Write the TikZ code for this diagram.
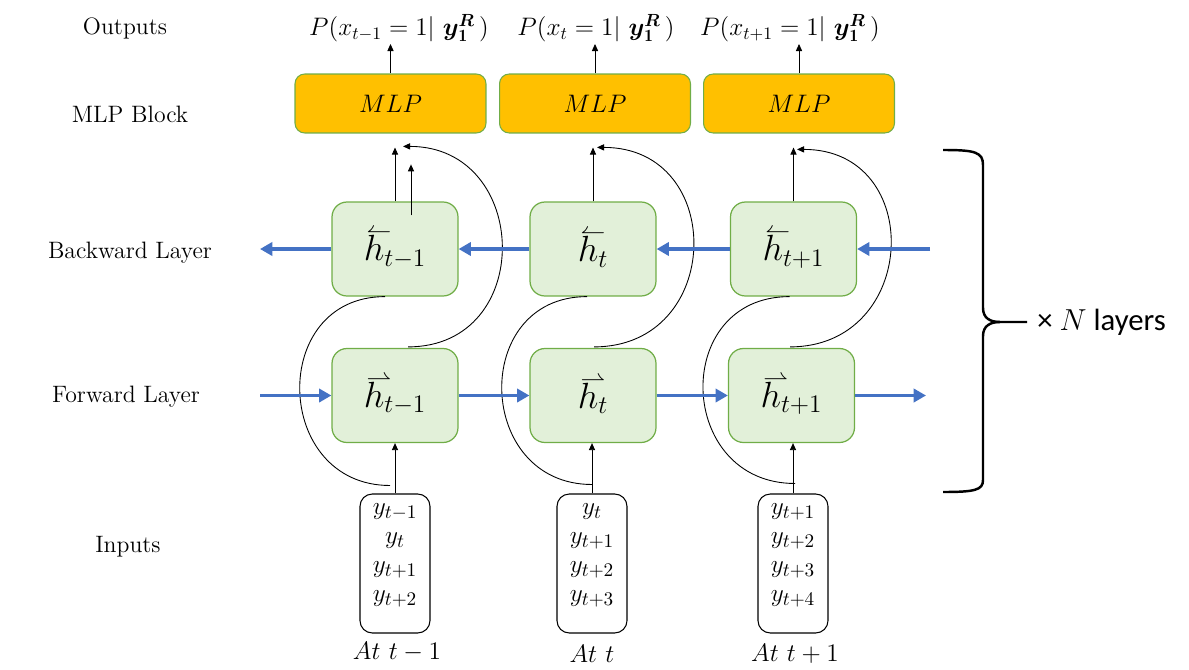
\documentclass[tikz,border=0pt]{standalone}
\usepackage{amsmath,amssymb}
\usepackage{fontspec}
\newfontfamily\labelsans{Carlito}
\usetikzlibrary{arrows.meta}

\definecolor{mlporange}{HTML}{FFC000}
\definecolor{cellgreen}{HTML}{E2F0D9}
\definecolor{boxgreen}{HTML}{70AD47}
\definecolor{flowblue}{HTML}{4472C4}

% hidden states with direction harpoons resting on the h
\newcommand{\bwh}{\rlap{\raisebox{0.63em}{\hspace{0.08em}$\scriptstyle\leftharpoonup$}}h}
\newcommand{\fwh}{\rlap{\raisebox{0.63em}{\hspace{0.08em}$\scriptstyle\rightharpoonup$}}h}

\tikzset{
  mlpbox/.style={draw=boxgreen, fill=mlporange, rounded corners=5.5pt,
    minimum width=3.82cm, minimum height=1.18cm, line width=0.6pt,
    font=\fontsize{13.5}{15}\selectfont},
  hbox/.style={draw=boxgreen, fill=cellgreen, rounded corners=8.5pt,
    minimum width=2.52cm, minimum height=1.88cm, line width=0.7pt,
    font=\fontsize{20}{22}\selectfont},
  inbox/.style={draw, rounded corners=7pt, minimum width=1.4cm,
    minimum height=2.78cm, line width=0.6pt},
  intext/.style={align=center, inner sep=0pt, font=\fontsize{15.5}{16.5}\selectfont},
  timetext/.style={font=\fontsize{14.5}{16}\selectfont},
  outtext/.style={anchor=south, inner sep=1pt, font=\fontsize{14}{16}\selectfont},
  rowlabel/.style={font=\fontsize{13.5}{15}\selectfont},
  flow/.style={draw=flowblue, line width=2.2pt, -{Triangle[length=7pt,width=7.5pt]}},
  link/.style={draw=black, line width=0.5pt, -{Triangle[length=4pt,width=3.5pt]}},
  plain/.style={draw=black, line width=0.5pt},
}

\begin{document}
\begin{tikzpicture}[x=0.02cm, y=-0.02cm]
\useasboundingbox (0,0) rectangle (1189,669);

% row labels
\node[rowlabel] (lout) at (125,28)  {Outputs};
\node[rowlabel] (lmlp) at (130,114) {MLP Block};
\node[rowlabel] (lbw)  at (130,253) {Backward Layer};
\node[rowlabel] (lfw)  at (126,397) {Forward Layer};
\node[rowlabel] (lin)  at (128,547) {Inputs};

% MLP heads
\node[mlpbox] (mlp1) at (390.5,103.5) {$MLP$};
\node[mlpbox] (mlp2) at (595,103.5)   {$MLP$};
\node[mlpbox] (mlp3) at (799,103.5)   {$MLP$};

% outputs
\node[outtext] (out1) at (399,44) {$P(x_{t-1} = 1|\ \boldsymbol{y}_{\mathbf{1}}^{\boldsymbol{R}}\,)$};
\node[outtext] (out2) at (596,44) {$P(x_{t} = 1|\ \boldsymbol{y}_{\mathbf{1}}^{\boldsymbol{R}}\,)$};
\node[outtext] (out3) at (790,44) {$P(x_{t+1} = 1|\ \boldsymbol{y}_{\mathbf{1}}^{\boldsymbol{R}}\,)$};

% backward and forward cells
\node[hbox] (bw1) at (395,249)   {$\bwh_{t-1}$};
\node[hbox] (bw2) at (593,249)   {$\bwh_{t}$};
\node[hbox] (bw3) at (793.5,249) {$\bwh_{t+1}$};
\node[hbox] (fw1) at (395,395.5)   {$\fwh_{t-1}$};
\node[hbox] (fw2) at (593,395.5)   {$\fwh_{t}$};
\node[hbox] (fw3) at (791.5,395.5) {$\fwh_{t+1}$};

% input windows
\node[inbox] (in1) at (395,563.5) {};
\node[inbox] (in2) at (592,563.5) {};
\node[inbox] (in3) at (793,563.5) {};
\node[intext] (in1t) at (395,555) {$y_{t-1}$\\$y_{t}$\\$y_{t+1}$\\$y_{t+2}$};
\node[intext] (in2t) at (592,555) {$y_{t}$\\$y_{t+1}$\\$y_{t+2}$\\$y_{t+3}$};
\node[intext] (in3t) at (793,555) {$y_{t+1}$\\$y_{t+2}$\\$y_{t+3}$\\$y_{t+4}$};

\node[timetext] (at1) at (397,652) {$At\ t-1$};
\node[timetext] (at2) at (592,654) {$At\ t$};
\node[timetext] (at3) at (795,654) {$At\ t+1$};

% MLP -> outputs
\draw[link] (mlp1.north) -- (mlp1.north |- out1.south);
\draw[link] (mlp2.north) -- (mlp2.north |- out2.south);
\draw[link] (mlp3.north) -- (mlp3.north |- out3.south);

% backward cell -> MLP
\draw[link, shorten >=8pt] (bw1.north) -- (bw1.north |- mlp1.south);
\draw[link, shorten >=8pt] (bw2.north) -- (bw2.north |- mlp2.south);
\draw[link, shorten >=8pt] (bw3.north) -- (bw3.north |- mlp3.south);
\coordinate (bw1in) at ([shift={(16,14)}]bw1.north);
\coordinate (bw1up) at ([shift={(16,-37)}]bw1.north);
\draw[link] (bw1in) -- (bw1up);

% forward cell -> MLP (skip around the backward cell)
\coordinate (sk1) at ([shift={(8,-55)}]bw1.north);
\coordinate (sk2) at ([shift={(4,-54)}]bw2.north);
\coordinate (sk3) at ([shift={(3.5,-52)}]bw3.north);
\draw[link] ([shift={(13,-1)}]fw1.north) .. controls +(128,0) and +(128,0) .. (sk1);
\draw[link] ([shift={(1,-1)}]fw2.north) .. controls +(130,0) and +(130,0) .. (sk2);
\draw[link] ([shift={(-1.5,-1)}]fw3.north) .. controls +(129,0) and +(129,0) .. (sk3);

% input feeds the backward cell
\coordinate (fd1) at ([shift={(-5,-8)}]in1.north);
\coordinate (fd2) at ([shift={(0,-9)}]in2.north);
\coordinate (fd3) at ([shift={(2,-10)}]in3.north);
\draw[plain] ([xshift=-0.2cm]bw1.south) .. controls +(-117,0) and +(-117,0) .. (fd1);
\draw[plain] ([xshift=-0.12cm]bw2.south) .. controls +(-117,0) and +(-117,0) .. (fd2);
\draw[plain] ([xshift=-0.08cm]bw3.south) .. controls +(-119,0) and +(-119,0) .. (fd3);

% input -> forward cell
\draw[link] (in1.north) -- (in1.north |- fw1.south);
\draw[link] (in2.north) -- (in2.north |- fw2.south);
\draw[link] (in3.north) -- (in3.north |- fw3.south);

% recurrent flows
\coordinate (bwin)  at (930,249);
\coordinate (bwout) at (260,249);
\coordinate (fwin)  at (260,395.5);
\coordinate (fwout) at (926,395.5);
\draw[flow] (bwin) -- (bw3.east);
\draw[flow] (bw3.west) -- (bw2.east);
\draw[flow] (bw2.west) -- (bw1.east);
\draw[flow] (bw1.west) -- (bwout);
\draw[flow] (fwin) -- (fw1.west);
\draw[flow] (fw1.east) -- (fw2.west);
\draw[flow] (fw2.east) -- (fw3.west);
\draw[flow] (fw3.east) -- (fwout);

% layer brace
\draw[line width=1.4pt, line join=round]
  (943,150) .. controls (975,150) and (983,152) .. (983,165) -- (983,308)
  .. controls (983,318) and (990,322) .. (1000,322) -- (1027,322);
\draw[line width=1.4pt, line join=round]
  (1000,322) .. controls (990,322) and (983,326) .. (983,336) -- (983,480)
  .. controls (983,490) and (975,492) .. (943,492);
\node[anchor=west, inner sep=0pt, font=\labelsans\fontsize{17.5}{19}\selectfont] (nl) at (1037,322) {× $N$ layers};

\end{tikzpicture}
\end{document}
